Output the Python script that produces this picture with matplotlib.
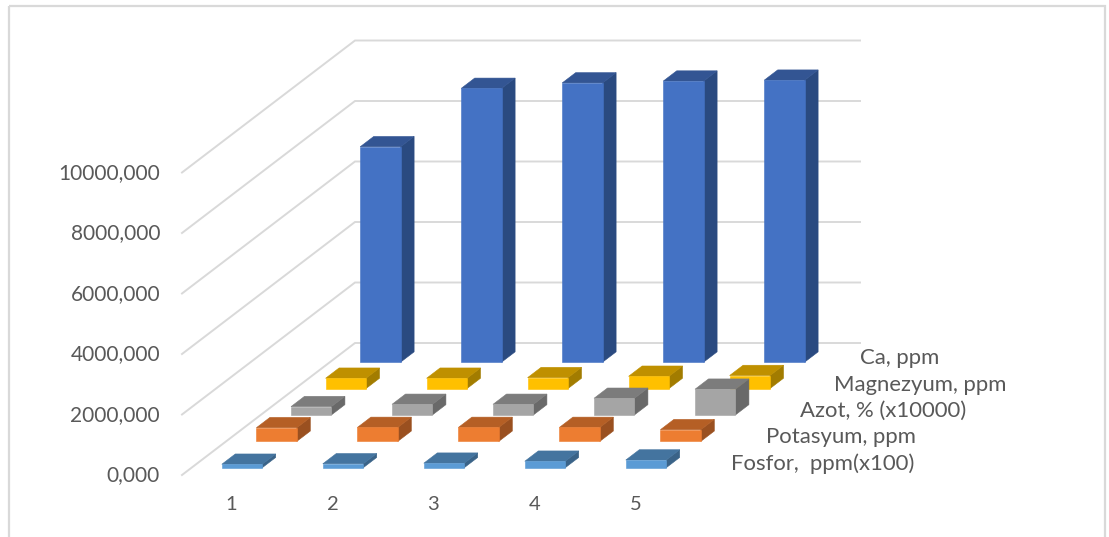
import matplotlib
matplotlib.use("Agg")
import matplotlib.pyplot as plt
from matplotlib.patches import Polygon, Rectangle

plt.rcParams["font.family"] = ["Lato", "DejaVu Sans"]

# Sample numbers along the horizontal axis
categories = ["1", "2", "3", "4", "5"]

# Series, front row first
fosfor = [115, 130, 150, 215, 255]
potasyum = [450, 460, 460, 460, 385]
azot = [275, 350, 350, 550, 850]
magnezyum = [340, 340, 360, 405, 430]
kalsiyum = [7120, 9050, 9230, 9290, 9320]

series_names = ["Fosfor,  ppm(x100)", "Potasyum, ppm", "Azot, % (x10000)",
                "Magnezyum, ppm", "Ca, ppm"]
series_values = [fosfor, potasyum, azot, magnezyum, kalsiyum]

value_ticks = [0, 2000, 4000, 6000, 8000, 10000]
value_labels = ["0,000", "2000,000", "4000,000", "6000,000", "8000,000", "10000,000"]

# (front, top, side) shading for each series
shades = [("#5B9BD5", "#44749F", "#3A6388"),
          ("#ED7D31", "#B55F25", "#9A5020"),
          ("#A5A5A5", "#7C7C7C", "#696969"),
          ("#FFC000", "#BF9000", "#A27C00"),
          ("#4472C4", "#335593", "#2A4A80")]

# Oblique projection, in figure pixels measured from the top left corner
ORIGIN_X, ORIGIN_Y = 182.0, 475.0
BAND_W = 101.0          # one category along the width
ROW_DX, ROW_DY = 34.6, 26.4   # one series along the depth
PX_PER_UNIT = 60.5 / 2000.0
BAR_W, BAR_D = 0.40, 0.39
ROW_INSET = (1 - BAR_D) / 2 - 0.03
TEXT_COLOR = "#595959"
GRID_COLOR = "#D9D9D9"
# Horizontal gap between each row's floor end and its label
LABEL_GAPS = [27, 27, 26.5, 26, 17]


def project(u, v, z):
    return (ORIGIN_X + BAND_W * u + ROW_DX * v,
            ORIGIN_Y - ROW_DY * v - PX_PER_UNIT * z)


fig = plt.figure(figsize=(11.09, 5.37), dpi=100, facecolor="white")
ax = fig.add_axes([0, 0, 1, 1])
ax.set_xlim(0, 1109)
ax.set_ylim(537, 0)
ax.axis("off")

# Chart frame, open past the lower edge of the figure
ax.add_patch(Rectangle((9, 6), 1096, 560, fill=False, ec=GRID_COLOR, lw=1.6, zorder=1))

# Gridlines on the side wall and the back wall
n_cat, n_rows = len(categories), len(series_names)
for tick, label in zip(value_ticks, value_labels):
    x0, y0 = project(0, 0, tick)
    x1, y1 = project(0, n_rows, tick)
    x2, y2 = project(n_cat, n_rows, tick)
    ax.plot([x0, x1, x2], [y0, y1, y2], color=GRID_COLOR, lw=1.4, zorder=2,
            solid_joinstyle="miter")
    ax.text(160, y0 + 0.5, label, ha="right", va="center", fontsize=15, color=TEXT_COLOR)

# Bars from the back row forward so nearer blocks cover farther ones
z = 3
for row in range(n_rows - 1, -1, -1):
    front, top, side = shades[row]
    v0 = row + ROW_INSET
    v1 = v0 + BAR_D
    for i, value in enumerate(series_values[row]):
        u0 = i + (1 - BAR_W) / 2
        u1 = u0 + BAR_W
        faces = [
            ([(u1, v0, 0), (u1, v1, 0), (u1, v1, value), (u1, v0, value)], side),
            ([(u0, v0, value), (u1, v0, value), (u1, v1, value), (u0, v1, value)], top),
            ([(u0, v0, 0), (u1, v0, 0), (u1, v0, value), (u0, v0, value)], front),
        ]
        for corners, color in faces:
            ax.add_patch(Polygon([project(*c) for c in corners], closed=True,
                                 fc=color, ec=color, lw=0.4, zorder=z))
    z += 1

# Category labels below the front edge
for i, name in enumerate(categories):
    x, _ = project(i + 0.5, 0, 0)
    ax.text(x - 1, 504, name, ha="center", va="center", fontsize=14.5, color=TEXT_COLOR)

# Series labels to the right of the floor, one per row
for row, name in enumerate(series_names):
    x, y = project(n_cat, row + 0.5, 0)
    ax.text(x + LABEL_GAPS[row], y + 2, name, ha="left", va="center", fontsize=15.9,
            color=TEXT_COLOR, zorder=20)

fig.savefig("out.png", dpi=100)
